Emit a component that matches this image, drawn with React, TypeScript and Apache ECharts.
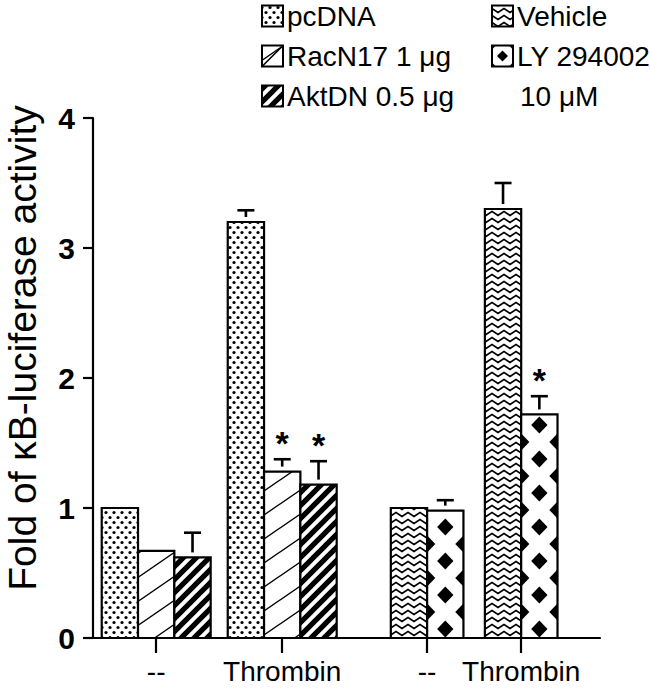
import React, { useEffect, useRef } from 'react';
import * as echarts from 'echarts';

// ---------- data ----------
const categories = ['--', 'Thrombin', '--', 'Thrombin'];

// left experiment (groups "--" and "Thrombin")
const pcDNAValues = [1.0, 3.2];
const pcDNAErrors = [0, 0.09];
const racN17Values = [0.67, 1.28];
const racN17Errors = [0, 0.095];
const aktDNValues = [0.62, 1.18];
const aktDNErrors = [0.19, 0.18];
// right experiment (groups "--" and "Thrombin")
const vehicleValues = [1.0, 3.3];
const vehicleErrors = [0, 0.2];
const lyValues = [0.98, 1.72];
const lyErrors = [0.08, 0.14];

const pcDNASignificant = [false, false];
const racN17Significant = [false, true];
const aktDNSignificant = [false, true];
const vehicleSignificant = [false, false];
const lySignificant = [false, true];

const legendLeft = ['pcDNA', 'RacN17 1 μg', 'AktDN 0.5 μg'];
const legendRight = ['Vehicle', 'LY 294002', '10 μM'];
const yTitle = 'Fold of κB-luciferase activity';

// ---------- layout ----------
const FONT = '"Liberation Sans", Arial, Helvetica, sans-serif';
const GRID = { left: 93, top: 118, right: 50, bottom: 57 };
const X_MAX = 13.96; // x axis length, in bar widths
const GROUP_CENTERS = [1.74, 5.21, 9.2, 11.79];

type Tile = { w: number; h: number; draw: (c: CanvasRenderingContext2D, w: number, h: number) => void };

function makePattern(tile: Tile) {
  const cv = document.createElement('canvas');
  cv.width = tile.w;
  cv.height = tile.h;
  const ctx = cv.getContext('2d')!;
  ctx.fillStyle = '#fff';
  ctx.fillRect(0, 0, tile.w, tile.h);
  ctx.fillStyle = '#000';
  ctx.strokeStyle = '#000';
  tile.draw(ctx, tile.w, tile.h);
  return { image: cv.toDataURL(), imageWidth: tile.w, imageHeight: tile.h, repeat: 'repeat' };
}

const dotsTile: Tile = {
  w: 8,
  h: 10,
  draw: (c) => {
    [
      [2, 2.5],
      [6, 7.5],
    ].forEach(([x, y]) => {
      c.beginPath();
      c.arc(x, y, 1.6, 0, Math.PI * 2);
      c.fill();
    });
  },
};

const thinDiagTile: Tile = {
  w: 35,
  h: 24,
  draw: (c, w, h) => {
    c.lineWidth = 1.4;
    c.beginPath();
    for (let k = -1; k <= 1; k++) {
      c.moveTo(-w, 2 * h + k * h);
      c.lineTo(2 * w, -h + k * h);
    }
    c.stroke();
  },
};

const thickDiagTile: Tile = {
  w: 13,
  h: 13,
  draw: (c, w) => {
    c.lineWidth = 5.2;
    c.beginPath();
    for (let k = -2; k <= 3; k++) {
      c.moveTo(k * w - 2 * w, 2 * w);
      c.lineTo(k * w + 2 * w, -2 * w);
    }
    c.stroke();
  },
};

const zigzagTile: Tile = {
  w: 12,
  h: 7,
  draw: (c) => {
    c.lineWidth = 1.7;
    c.beginPath();
    c.moveTo(-6, 5.5);
    c.lineTo(0, 1.5);
    c.lineTo(6, 5.5);
    c.lineTo(12, 1.5);
    c.lineTo(18, 5.5);
    c.stroke();
  },
};

function diamondPoints(cx: number, cy: number, hw: number, hh: number, side: 'full' | 'right' | 'left') {
  if (side === 'right') return [[cx, cy - hh], [cx + hw, cy], [cx, cy + hh]];
  if (side === 'left') return [[cx, cy - hh], [cx - hw, cy], [cx, cy + hh]];
  return [[cx, cy - hh], [cx + hw, cy], [cx, cy + hh], [cx - hw, cy]];
}

// diamonds drawn inside a bar (LY 294002)
function diamondDecor(x0: number, x1: number, yTop: number, yBottom: number) {
  const out: any[] = [];
  const hw = (x1 - x0) * 0.225;
  const hh = 8.4;
  const step = 17;
  const cx = (x0 + x1) / 2;
  for (let r = 0; ; r++) {
    const cy = yBottom - 9 - r * step;
    if (cy - hh < yTop + 1) break;
    if (r % 2 === 0) {
      out.push({ type: 'polygon', shape: { points: diamondPoints(cx, cy, hw, hh, 'full') }, style: { fill: '#000' } });
    } else {
      out.push({ type: 'polygon', shape: { points: diamondPoints(x0, cy, hw, hh, 'right') }, style: { fill: '#000' } });
      out.push({ type: 'polygon', shape: { points: diamondPoints(x1, cy, hw, hh, 'left') }, style: { fill: '#000' } });
    }
  }
  return out;
}

function buildOption() {
  const patterns = {
    pcDNA: makePattern(dotsTile),
    racN17: makePattern(thinDiagTile),
    aktDN: makePattern(thickDiagTile),
    vehicle: makePattern(zigzagTile),
  };

  const seriesDefs = [
    { name: 'pcDNA', values: pcDNAValues, errors: pcDNAErrors, sig: pcDNASignificant, groups: [0, 1], offset: -1, fill: patterns.pcDNA as any, decor: null as any },
    { name: 'RacN17 1 μg', values: racN17Values, errors: racN17Errors, sig: racN17Significant, groups: [0, 1], offset: 0, fill: patterns.racN17, decor: null },
    { name: 'AktDN 0.5 μg', values: aktDNValues, errors: aktDNErrors, sig: aktDNSignificant, groups: [0, 1], offset: 1, fill: patterns.aktDN, decor: null },
    { name: 'Vehicle', values: vehicleValues, errors: vehicleErrors, sig: vehicleSignificant, groups: [2, 3], offset: -0.5, fill: patterns.vehicle, decor: null },
    { name: 'LY 294002 10 μM', values: lyValues, errors: lyErrors, sig: lySignificant, groups: [2, 3], offset: 0.5, fill: '#fff', decor: diamondDecor },
  ];

  const series = seriesDefs.map((d) => ({
    type: 'custom',
    name: d.name,
    clip: false,
    data: d.values.map((v, i) => [GROUP_CENTERS[d.groups[i]] + d.offset, v, d.errors[i], d.sig[i] ? 1 : 0]),
    renderItem: (params: any, api: any) => {
      const x = api.value(0);
      const v = api.value(1);
      const e = api.value(2);
      const s = api.value(3);
      const p0 = api.coord([x - 0.5, 0]);
      const p1 = api.coord([x + 0.5, v]);
      const rectShape = { x: p0[0], y: p1[1], width: p1[0] - p0[0], height: p0[1] - p1[1] };
      const children: any[] = [{ type: 'rect', shape: rectShape, style: { fill: d.fill, stroke: 'none' } }];
      if (d.decor) children.push(...d.decor(p0[0], p1[0], p1[1], p0[1]));
      children.push({ type: 'rect', shape: rectShape, style: { fill: 'none', stroke: '#000', lineWidth: 2.2 } });
      const top = api.coord([x, v + e]);
      if (e > 0) {
        children.push({
          type: 'line',
          shape: { x1: top[0] - 8.5, y1: top[1], x2: top[0] + 8.5, y2: top[1] },
          style: { stroke: '#000', lineWidth: 2.6 },
        });
        children.push({
          type: 'line',
          shape: { x1: top[0], y1: top[1], x2: top[0], y2: p1[1] - 5 },
          style: { stroke: '#000', lineWidth: 2.6 },
        });
      }
      if (s) {
        children.push({
          type: 'text',
          x: top[0],
          y: top[1] - 16,
          style: { text: '*', font: `bold 34px ${FONT}`, fill: '#000', align: 'center', verticalAlign: 'middle' },
        });
      }
      return { type: 'group', children };
    },
  }));

  // ---------- legend (graphic) ----------
  const BOX = 21;
  const graphic: any[] = [];
  const legendItems = [
    { x: 262, y: 16, label: legendLeft[0], kind: 'pcDNA' },
    { x: 262, y: 56, label: legendLeft[1], kind: 'racN17' },
    { x: 262, y: 96, label: legendLeft[2], kind: 'aktDN' },
    { x: 492, y: 16, label: legendRight[0], kind: 'vehicle' },
    { x: 492, y: 56, label: legendRight[1], kind: 'ly' },
  ];
  legendItems.forEach((it) => {
    const bx = it.x;
    const by = it.y - BOX / 2;
    const shape = { x: bx, y: by, width: BOX, height: BOX };
    const fill = (patterns as any)[it.kind] || '#fff';
    graphic.push({ type: 'rect', shape, style: { fill, stroke: 'none' } });
    if (it.kind === 'racN17') {
      graphic.push({ type: 'line', shape: { x1: bx, y1: by + BOX, x2: bx + BOX, y2: by }, style: { stroke: '#000', lineWidth: 1.6 } });
    }
    if (it.kind === 'ly') {
      const cx = bx + BOX / 2;
      const cy = by + BOX / 2;
      const hw = 5.5;
      graphic.push({ type: 'polygon', shape: { points: diamondPoints(cx, cy, hw, hw, 'full') }, style: { fill: '#000' } });
      [
        [[bx, by], [bx + 4, by], [bx, by + 4]],
        [[bx + BOX, by], [bx + BOX - 4, by], [bx + BOX, by + 4]],
        [[bx, by + BOX], [bx + 4, by + BOX], [bx, by + BOX - 4]],
        [[bx + BOX, by + BOX], [bx + BOX - 4, by + BOX], [bx + BOX, by + BOX - 4]],
      ].forEach((pts) => graphic.push({ type: 'polygon', shape: { points: pts }, style: { fill: '#000' } }));
    }
    graphic.push({ type: 'rect', shape, style: { fill: 'none', stroke: '#000', lineWidth: 2 } });
    graphic.push({
      type: 'text',
      x: bx + BOX + 4,
      y: it.y,
      style: { text: it.label, font: `28px ${FONT}`, fill: '#000', align: 'left', verticalAlign: 'middle' },
    });
  });
  graphic.push({
    type: 'text',
    x: 520,
    y: 96,
    style: { text: legendRight[2], font: `28px ${FONT}`, fill: '#000', align: 'left', verticalAlign: 'middle' },
  });
  graphic.push({
    type: 'text',
    x: 22,
    y: 348,
    rotation: Math.PI / 2,
    style: { text: yTitle, font: `39px ${FONT}`, fill: '#000', align: 'center', verticalAlign: 'middle' },
  });

  return {
    animation: false,
    backgroundColor: '#fff',
    grid: { ...GRID, containLabel: false },
    xAxis: {
      type: 'value',
      min: 0,
      max: X_MAX,
      axisLine: { show: true, onZero: false, lineStyle: { color: '#000', width: 2.2 } },
      axisTick: { show: true, customValues: GROUP_CENTERS, length: 15, lineStyle: { color: '#000', width: 2.2 } },
      axisLabel: {
        show: true,
        customValues: GROUP_CENTERS,
        formatter: (val: number) => {
          const i = GROUP_CENTERS.findIndex((c) => Math.abs(c - val) < 1e-6);
          return i >= 0 ? categories[i] : '';
        },
        margin: 19,
        color: '#000',
        fontSize: 28,
        fontFamily: FONT,
      },
      splitLine: { show: false },
    },
    yAxis: {
      type: 'value',
      min: 0,
      max: 4,
      interval: 1,
      axisLine: { show: true, onZero: false, lineStyle: { color: '#000', width: 2.2 } },
      axisTick: { show: true, length: 10, lineStyle: { color: '#000', width: 2.2 } },
      axisLabel: { color: '#000', fontSize: 30, fontWeight: 'bold', fontFamily: FONT, margin: 18 },
      splitLine: { show: false },
    },
    graphic,
    series,
  };
}

export default function App() {
  const ref = useRef<HTMLDivElement>(null);
  useEffect(() => {
    document.body.style.margin = '0';
    const chart = echarts.init(ref.current!, undefined, { renderer: 'svg' });
    chart.setOption(buildOption() as any);
    return () => chart.dispose();
  }, []);
  return <div ref={ref} style={{ width: 650, height: 695 }} />;
}
